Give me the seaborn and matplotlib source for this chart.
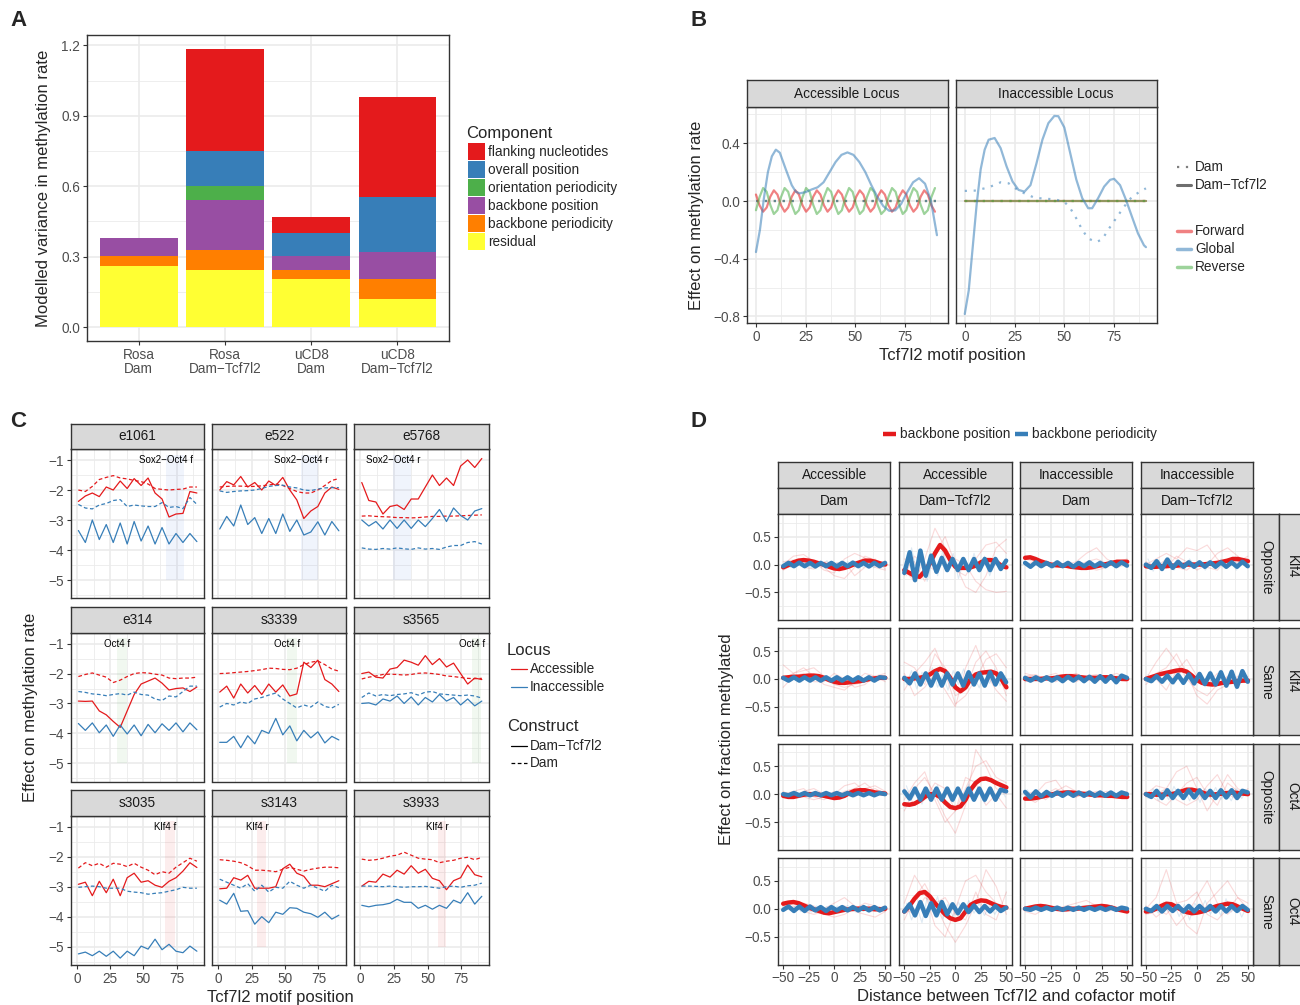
import numpy as np
import pandas as pd
import matplotlib
matplotlib.use("Agg")
import matplotlib.pyplot as plt
import seaborn as sns
from matplotlib.patches import Rectangle

MINUS = "\u2212"

# ---------------- A: variance components ----------------
conditions = ["Rosa\nDam", "Rosa\nDam" + MINUS + "Tcf7l2", "uCD8\nDam", "uCD8\nDam" + MINUS + "Tcf7l2"]
components = ["flanking nucleotides", "overall position", "orientation periodicity",
              "backbone position", "backbone periodicity", "residual"]
comp_colors = ["#E41A1C", "#377EB8", "#4DAF4A", "#984EA3", "#FF7F00", "#FFFF33"]
flanking_nucleotides = [0.0, 0.435, 0.069, 0.426]
overall_position = [0.0, 0.149, 0.097, 0.233]
orientation_periodicity = [0.0, 0.060, 0.0, 0.0]
backbone_position = [0.076, 0.213, 0.060, 0.116]
backbone_periodicity = [0.042, 0.085, 0.038, 0.086]
residual = [0.261, 0.243, 0.205, 0.119]

# ---------------- B: motif position effects ----------------
b_wave_pos = np.arange(0, 90.1, 1.8)
b_acc_forward = [0.045, -0.030, -0.074, -0.045, 0.030, 0.074,
                 0.045, -0.030, -0.074, -0.045, 0.030, 0.074,
                 0.045, -0.030, -0.074, -0.045, 0.030, 0.074,
                 0.045, -0.030, -0.074, -0.045, 0.030, 0.074,
                 0.045, -0.030, -0.074, -0.045, 0.030, 0.074,
                 0.045, -0.030, -0.074, -0.045, 0.030, 0.074,
                 0.045, -0.030, -0.074, -0.045, 0.030, 0.074,
                 0.045, -0.030, -0.074, -0.045, 0.030, 0.074,
                 0.045, -0.030, -0.074]
b_acc_reverse = [-0.064, 0.027, 0.090, 0.064, -0.027, -0.090,
                 -0.064, 0.027, 0.090, 0.064, -0.027, -0.090,
                 -0.064, 0.027, 0.090, 0.064, -0.027, -0.090,
                 -0.064, 0.027, 0.090, 0.064, -0.027, -0.090,
                 -0.064, 0.027, 0.090, 0.064, -0.027, -0.090,
                 -0.064, 0.027, 0.090, 0.064, -0.027, -0.090,
                 -0.064, 0.027, 0.090, 0.064, -0.027, -0.090,
                 -0.064, 0.027, 0.090, 0.064, -0.027, -0.090,
                 -0.064, 0.027, 0.090]
b_acc_global_pos = [0, 2, 4, 6, 8, 10, 12, 15, 18, 20, 22, 25, 28, 31, 34, 37, 40, 43, 46,
                    49, 52, 55, 58, 61, 64, 67, 70, 73, 76, 79, 82, 85, 88, 91]
b_acc_global = [-0.354, -0.2, 0.02, 0.2, 0.31, 0.356, 0.335, 0.22, 0.11, 0.065, 0.053, 0.062,
                0.08, 0.095, 0.13, 0.2, 0.27, 0.32, 0.337, 0.32, 0.27, 0.2, 0.11, 0.03, -0.035,
                -0.068, -0.065, -0.02, 0.06, 0.13, 0.158, 0.12, 0.0, -0.237]
b_inacc_global_pos = [0, 2, 4, 6, 8, 10, 12, 15, 18, 21, 24, 27, 30, 33, 36, 39, 42, 45, 47, 50,
                      53, 56, 59, 62, 64, 67, 70, 73, 75, 78, 81, 84, 87, 90, 91]
b_inacc_global = [-0.784, -0.62, -0.32, -0.02, 0.22, 0.356, 0.425, 0.437, 0.367, 0.24, 0.135,
                  0.077, 0.065, 0.11, 0.26, 0.425, 0.54, 0.59, 0.588, 0.51, 0.33, 0.15, 0.02,
                  -0.05, -0.05, 0.02, 0.10, 0.147, 0.154, 0.11, 0.007, -0.11, -0.225, -0.307, -0.32]
b_inacc_dam_pos = [0, 5, 10, 15, 18, 22, 27, 30, 35, 40, 45, 50, 53, 56, 59, 62, 66, 69, 72,
                   76, 80, 84, 88, 91]
b_inacc_dam_global = [0.07, 0.072, 0.088, 0.11, 0.13, 0.123, 0.072, 0.053, 0.023, 0.016, 0.012,
                      -0.005, -0.05, -0.12, -0.2, -0.26, -0.284, -0.267, -0.2, -0.12, -0.04,
                      0.03, 0.065, 0.088]
b_flat_pos = [0, 91]
b_flat = [0.0, 0.0]

# ---------------- C: individual loci ----------------
c_ids = ["e1061", "e522", "e5768", "e314", "s3339", "s3565", "s3035", "s3143", "s3933"]
c_motif = ["Sox2" + MINUS + "Oct4 f", "Sox2" + MINUS + "Oct4 r", "Sox2" + MINUS + "Oct4 r",
           "Oct4 f", "Oct4 f", "Oct4 f", "Klf4 f", "Klf4 r", "Klf4 r"]
c_motif_start = [67, 62, 24.5, 30, 51.5, 83, 66, 29, 57.5]
c_motif_end = [80.5, 74.5, 37.5, 37.5, 59, 90, 73.5, 36, 64]
c_pos = np.arange(18) * 5.25 + 1
c_acc_tcf = {
    "e1061": [-2.38, -2.2, -2.1, -2.22, -1.9, -2.0, -1.7, -1.95, -1.62, -1.85, -1.6, -2.1, -2.3, -2.9, -2.8, -2.78, -2.05, -2.1],
    "e522": [-2.0, -1.72, -1.83, -1.55, -1.9, -1.75, -2.0, -1.7, -1.85, -1.58, -2.0, -2.33, -2.95, -2.7, -2.55, -2.1, -1.9, -1.98],
    "e5768": [-1.75, -2.35, -2.4, -2.8, -2.55, -2.5, -2.65, -2.3, -2.3, -1.9, -1.5, -1.85, -1.6, -1.85, -1.2, -1.0, -1.25, -0.95],
    "e314": [-2.92, -2.93, -2.92, -3.25, -3.38, -3.6, -3.8, -3.25, -2.7, -2.35, -2.25, -2.15, -2.32, -2.55, -2.5, -2.48, -2.6, -2.45],
    "s3339": [-2.62, -2.42, -2.82, -2.35, -2.65, -2.4, -2.7, -2.35, -2.62, -2.38, -2.75, -2.68, -1.62, -1.8, -1.55, -2.2, -2.35, -2.6],
    "s3565": [-2.0, -1.95, -2.12, -2.15, -1.85, -1.8, -1.55, -1.62, -1.72, -1.4, -1.7, -1.5, -1.78, -1.65, -2.0, -2.35, -2.15, -2.2],
    "s3035": [-2.92, -2.85, -3.3, -2.82, -3.2, -2.75, -3.3, -2.7, -2.55, -2.85, -2.8, -2.95, -3.02, -2.82, -2.7, -2.48, -2.2, -2.36],
    "s3143": [-3.07, -3.05, -2.7, -2.78, -2.62, -3.05, -3.05, -3.05, -3.0, -2.4, -2.25, -2.55, -2.65, -2.95, -2.95, -3.0, -2.9, -2.8],
    "s3933": [-2.98, -2.82, -2.85, -2.58, -2.68, -2.45, -2.58, -2.3, -2.55, -2.42, -2.72, -2.8, -3.1, -2.8, -2.7, -2.28, -2.6, -2.67],
}
c_acc_dam = {
    "e1061": [-2.0, -2.05, -1.88, -1.65, -1.58, -1.52, -1.6, -1.63, -1.68, -1.72, -1.8, -1.95, -1.98, -2.0, -1.98, -1.97, -1.9, -1.9],
    "e522": [-1.9, -1.88, -1.87, -1.87, -1.88, -1.88, -1.86, -1.83, -1.8, -1.85, -1.95, -2.05, -2.1, -2.1, -2.0, -1.85, -1.68, -1.62],
    "e5768": [-2.87, -2.86, -2.88, -2.89, -2.9, -2.92, -2.92, -2.93, -2.92, -2.9, -2.88, -2.88, -2.87, -2.87, -2.86, -2.85, -2.84, -2.83],
    "e314": [-2.1, -2.03, -1.98, -2.05, -2.12, -2.3, -2.22, -2.1, -2.0, -1.97, -1.98, -2.02, -2.05, -2.15, -2.17, -2.15, -2.15, -2.12],
    "s3339": [-2.0, -1.99, -1.97, -1.95, -1.93, -1.9, -1.87, -1.82, -1.83, -1.86, -1.87, -1.82, -1.7, -1.62, -1.58, -1.7, -1.85, -1.92],
    "s3565": [-2.18, -2.12, -2.08, -2.03, -2.02, -2.03, -2.05, -2.03, -1.99, -1.98, -2.0, -2.03, -2.08, -2.1, -2.13, -2.16, -2.17, -2.16],
    "s3035": [-2.38, -2.2, -2.3, -2.22, -2.35, -2.22, -2.25, -2.33, -2.22, -2.35, -2.45, -2.6, -2.5, -2.55, -2.35, -2.2, -2.05, -2.15],
    "s3143": [-2.1, -2.12, -2.15, -2.2, -2.3, -2.45, -2.45, -2.47, -2.5, -2.42, -2.35, -2.42, -2.48, -2.42, -2.38, -2.35, -2.35, -2.37],
    "s3933": [-2.08, -2.12, -2.1, -2.05, -1.98, -1.95, -1.85, -1.95, -2.05, -2.08, -2.1, -2.2, -2.15, -2.12, -2.05, -2.02, -2.1, -2.02],
}
c_inacc_tcf = {
    "e1061": [-3.35, -3.75, -3.0, -3.65, -3.15, -3.75, -3.1, -3.8, -3.05, -3.7, -3.2, -3.8, -3.25, -3.8, -3.45, -3.75, -3.45, -3.72],
    "e522": [-3.3, -2.88, -3.2, -2.5, -3.15, -2.92, -3.45, -2.95, -3.45, -2.8, -3.38, -3.0, -3.5, -3.4, -3.06, -3.5, -3.05, -3.36],
    "e5768": [-3.0, -3.2, -3.05, -3.3, -3.0, -3.28, -3.0, -3.28, -3.0, -3.22, -2.95, -2.65, -3.05, -2.6, -2.85, -3.0, -2.7, -2.62],
    "e314": [-3.67, -3.9, -3.65, -3.98, -3.72, -4.1, -3.72, -4.02, -3.72, -4.08, -3.7, -3.98, -3.68, -3.9, -3.65, -3.95, -3.65, -3.88],
    "s3339": [-4.3, -4.3, -4.1, -4.48, -4.08, -4.35, -3.9, -4.0, -3.5, -4.05, -3.75, -4.25, -3.9, -4.15, -3.95, -4.32, -4.1, -4.22],
    "s3565": [-3.0, -2.98, -3.05, -2.85, -2.92, -2.75, -3.0, -2.78, -3.05, -2.8, -2.95, -2.7, -2.92, -2.8, -3.05, -2.85, -3.08, -2.92],
    "s3035": [-5.24, -5.18, -5.3, -5.15, -5.32, -5.15, -5.38, -5.15, -5.3, -4.98, -5.08, -4.75, -5.1, -4.92, -5.15, -5.2, -4.98, -5.15],
    "s3143": [-3.45, -3.58, -3.22, -3.82, -3.8, -4.25, -4.0, -4.2, -3.85, -3.92, -3.7, -3.72, -3.85, -3.9, -4.02, -3.85, -4.08, -3.95],
    "s3933": [-3.62, -3.67, -3.62, -3.6, -3.55, -3.42, -3.52, -3.52, -3.72, -3.62, -3.75, -3.62, -3.72, -3.45, -3.55, -3.2, -3.58, -3.32],
}
c_inacc_dam = {
    "e1061": [-2.48, -2.6, -2.63, -2.5, -2.45, -2.35, -2.32, -2.55, -2.5, -2.53, -2.55, -2.55, -2.42, -2.58, -2.55, -2.62, -2.25, -2.48],
    "e522": [-2.03, -2.08, -2.05, -2.03, -2.02, -2.0, -1.95, -1.88, -1.85, -1.84, -1.9, -1.93, -2.0, -2.02, -1.97, -1.93, -1.92, -1.92],
    "e5768": [-3.93, -3.97, -3.98, -3.95, -3.97, -3.93, -3.96, -3.98, -3.93, -3.97, -3.95, -3.98, -3.9, -3.85, -3.85, -3.75, -3.72, -3.8],
    "e314": [-2.6, -2.63, -2.68, -2.7, -2.74, -2.7, -2.67, -2.72, -2.62, -2.7, -2.72, -2.85, -2.9, -2.75, -2.78, -2.6, -2.42, -2.42],
    "s3339": [-3.12, -3.0, -3.05, -2.95, -3.0, -2.85, -2.8, -2.72, -2.65, -2.85, -3.0, -3.15, -3.05, -3.12, -2.95, -3.1, -3.15, -3.03],
    "s3565": [-2.8, -2.65, -2.75, -2.7, -2.74, -2.7, -2.68, -2.64, -2.72, -2.62, -2.6, -2.68, -2.7, -2.72, -2.74, -2.72, -2.75, -2.82],
    "s3035": [-3.02, -3.0, -2.98, -3.0, -3.05, -3.05, -3.05, -3.15, -3.18, -3.2, -3.25, -3.22, -3.2, -3.15, -3.1, -3.02, -3.05, -3.05],
    "s3143": [-2.75, -2.85, -2.95, -3.05, -2.9, -3.15, -2.95, -3.18, -3.02, -3.05, -2.82, -2.95, -3.05, -2.95, -3.05, -3.15, -2.95, -3.03],
    "s3933": [-2.98, -2.98, -2.99, -3.0, -2.98, -3.0, -3.02, -3.0, -3.0, -2.99, -3.02, -3.05, -3.0, -2.98, -3.02, -2.97, -2.95, -2.88],
}

# ---------------- D: cofactor distance ----------------
d_rows = [("Klf4", "Opposite"), ("Klf4", "Same"), ("Oct4", "Opposite"), ("Oct4", "Same")]
d_loci = ["Accessible", "Accessible", "Inaccessible", "Inaccessible"]
d_constructs = ["Dam", "Dam" + MINUS + "Tcf7l2", "Dam", "Dam" + MINUS + "Tcf7l2"]
d_pos_pos = np.arange(-50, 51, 5)
d_per_pos = np.arange(20) * 5.25 - 50
d_faint_pos = np.arange(-50, 51, 10)
d_faint_per_pos = np.arange(20) * 5.1 - 48
d_bb_position = {
    ("Klf4", "Opposite"): [
        [-0.05, -0.01, 0.04, 0.07, 0.08, 0.07, 0.05, 0.02, 0.0, -0.04, -0.07, -0.08, -0.06, -0.03, 0.01, 0.04, 0.07, 0.07, 0.05, 0.02, 0.0],
        [-0.10, -0.15, -0.20, -0.22, -0.12, 0.02, 0.20, 0.35, 0.25, 0.08, -0.04, -0.06, -0.06, -0.05, -0.02, 0.04, 0.08, 0.08, 0.05, -0.02, -0.05],
        [0.12, 0.13, 0.10, 0.06, 0.03, 0.0, -0.01, -0.02, -0.02, -0.04, -0.05, -0.06, -0.06, -0.05, -0.03, -0.01, 0.01, 0.03, 0.05, 0.05, 0.05],
        [-0.03, -0.04, -0.04, -0.03, -0.03, -0.02, -0.02, -0.01, 0.0, 0.0, 0.0, 0.0, 0.01, 0.02, 0.03, 0.05, 0.07, 0.10, 0.10, 0.08, 0.06]],
    ("Klf4", "Same"): [
        [0.02, 0.03, 0.04, 0.04, 0.05, 0.06, 0.06, 0.05, 0.02, -0.02, -0.05, -0.07, -0.07, -0.06, -0.05, -0.04, -0.02, 0.0, 0.01, 0.02, 0.02],
        [0.0, 0.0, 0.01, 0.02, 0.04, 0.08, 0.14, 0.18, 0.14, 0.02, -0.15, -0.22, -0.15, 0.0, 0.08, 0.11, 0.12, 0.13, 0.10, 0.0, -0.15],
        [0.0, 0.0, 0.0, 0.0, 0.01, 0.01, 0.02, 0.04, 0.05, 0.05, 0.04, 0.03, 0.02, 0.02, 0.02, 0.03, 0.03, 0.02, 0.01, 0.0, 0.0],
        [0.0, 0.03, 0.06, 0.09, 0.11, 0.13, 0.15, 0.16, 0.13, 0.06, -0.02, -0.07, -0.09, -0.10, -0.09, -0.07, -0.06, -0.05, -0.04, -0.03, -0.03]],
    ("Oct4", "Opposite"): [
        [-0.03, -0.05, -0.05, -0.03, -0.01, 0.0, 0.0, -0.01, -0.03, -0.05, -0.07, -0.06, -0.03, 0.02, 0.06, 0.07, 0.07, 0.05, 0.03, 0.02, 0.01],
        [-0.18, -0.19, -0.17, -0.12, -0.05, 0.0, 0.0, -0.05, -0.15, -0.23, -0.25, -0.22, -0.10, 0.08, 0.20, 0.27, 0.28, 0.25, 0.20, 0.16, 0.12],
        [-0.08, -0.08, -0.07, -0.05, -0.03, -0.01, 0.01, 0.02, 0.03, 0.03, 0.02, 0.01, 0.0, -0.01, -0.02, -0.02, -0.03, -0.03, -0.04, -0.05, -0.05],
        [0.0, 0.0, -0.01, -0.01, 0.0, 0.0, 0.02, 0.05, 0.08, 0.08, 0.06, 0.03, 0.0, -0.01, 0.0, 0.01, 0.02, 0.03, 0.02, 0.01, 0.0]],
    ("Oct4", "Same"): [
        [0.09, 0.11, 0.12, 0.10, 0.06, 0.02, -0.01, -0.04, -0.07, -0.08, -0.06, -0.04, -0.02, -0.01, 0.0, 0.0, 0.0, 0.0, -0.01, -0.01, 0.0],
        [-0.05, 0.05, 0.18, 0.28, 0.30, 0.22, 0.10, 0.0, -0.10, -0.17, -0.20, -0.17, -0.05, 0.07, 0.12, 0.15, 0.14, 0.10, 0.06, 0.03, 0.02],
        [0.0, 0.02, 0.04, 0.05, 0.04, 0.02, 0.0, -0.01, -0.01, 0.0, 0.0, 0.01, 0.02, 0.03, 0.04, 0.05, 0.04, 0.02, -0.01, -0.03, -0.05],
        [-0.05, -0.04, 0.0, 0.05, 0.09, 0.08, 0.03, -0.02, -0.06, -0.08, -0.07, -0.05, -0.02, 0.02, 0.05, 0.07, 0.09, 0.08, 0.04, 0.0, -0.04]],
}
d_bb_periodicity = {
    ("Klf4", "Opposite"): [
        [-0.03, 0.03, -0.03, 0.035, -0.03, 0.03, -0.035, 0.03, -0.03, 0.03, -0.035, 0.03, -0.03, 0.035, -0.03, 0.03, -0.035, 0.03, -0.03, 0.03],
        [-0.15, 0.22, -0.28, 0.25, -0.2, 0.16, -0.13, 0.12, -0.1, 0.1, -0.1, 0.1, -0.1, 0.1, -0.1, 0.1, -0.1, 0.1, -0.08, 0.07],
        [0.03, -0.04, 0.04, -0.03, 0.03, -0.03, 0.04, -0.03, 0.03, -0.04, 0.03, -0.03, 0.04, -0.03, 0.03, -0.03, 0.04, -0.03, 0.04, -0.02],
        [0.0, -0.06, 0.06, -0.08, 0.09, -0.06, 0.05, -0.04, 0.04, -0.04, 0.04, -0.04, 0.04, -0.04, 0.04, -0.04, 0.04, -0.04, 0.05, -0.03]],
    ("Klf4", "Same"): [
        [0.02, -0.03, 0.03, -0.03, 0.03, -0.03, 0.03, -0.03, 0.03, -0.03, 0.03, -0.03, 0.03, -0.03, 0.03, -0.03, 0.03, -0.03, 0.03, 0.02],
        [0.02, -0.08, 0.10, -0.10, 0.10, -0.12, 0.10, -0.12, 0.10, -0.10, 0.10, -0.12, 0.12, -0.10, 0.10, -0.12, 0.12, -0.10, 0.10, -0.06],
        [0.02, -0.03, 0.03, -0.03, 0.03, -0.03, 0.03, -0.04, 0.04, -0.03, 0.04, -0.04, 0.04, -0.05, 0.05, -0.05, 0.05, -0.06, 0.06, 0.02],
        [0.0, -0.04, 0.05, -0.05, 0.06, -0.06, 0.07, -0.07, 0.08, -0.08, 0.09, -0.09, 0.10, -0.10, 0.12, -0.12, 0.13, -0.14, 0.14, -0.05]],
    ("Oct4", "Opposite"): [
        [0.0, -0.02, 0.02, -0.02, 0.02, -0.02, 0.02, -0.02, 0.02, -0.02, 0.02, -0.02, 0.02, -0.02, 0.02, -0.02, 0.02, -0.02, 0.02, 0.0],
        [0.05, -0.08, 0.10, -0.10, 0.10, -0.10, 0.10, -0.10, 0.10, -0.10, 0.10, -0.10, 0.10, -0.10, 0.10, -0.10, 0.10, -0.10, 0.08, 0.05],
        [0.04, -0.06, 0.05, -0.04, 0.04, -0.03, 0.03, -0.03, 0.03, -0.03, 0.03, -0.03, 0.03, -0.03, 0.03, -0.03, 0.03, -0.03, 0.03, 0.0],
        [0.0, -0.05, 0.06, -0.07, 0.07, -0.07, 0.06, -0.07, 0.07, -0.06, 0.07, -0.07, 0.06, -0.07, 0.07, -0.06, 0.07, -0.07, 0.06, 0.03]],
    ("Oct4", "Same"): [
        [-0.02, 0.04, -0.04, 0.04, -0.04, 0.04, -0.03, 0.03, -0.04, 0.03, -0.03, 0.03, -0.03, 0.03, -0.03, 0.03, -0.03, 0.03, -0.03, 0.02],
        [-0.05, 0.08, -0.12, 0.12, -0.13, 0.10, -0.12, 0.12, -0.10, 0.08, -0.08, 0.08, -0.06, 0.06, -0.06, 0.05, -0.05, 0.05, -0.04, 0.02],
        [0.0, -0.02, 0.02, -0.02, 0.02, -0.02, 0.02, -0.02, 0.02, -0.02, 0.02, -0.02, 0.02, -0.02, 0.02, -0.02, 0.02, -0.02, 0.02, 0.0],
        [0.0, -0.04, 0.05, -0.05, 0.05, -0.04, 0.05, -0.05, 0.05, -0.05, 0.05, -0.04, 0.05, -0.05, 0.05, -0.05, 0.05, -0.04, 0.05, -0.02]],
}
# thin per-locus backbone position curves
d_loci_curves = {
    ("Klf4", "Opposite"): [
        [[0.0, 0.15, 0.18, 0.05, -0.1, -0.15, 0.1, 0.2, 0.12, -0.05, -0.1], [-0.1, 0.0, 0.1, 0.05, -0.05, -0.2, -0.25, -0.05, 0.15, 0.08, 0.0], [0.05, 0.08, -0.05, -0.08, 0.05, 0.02, 0.05, -0.2, -0.05, 0.1, -0.08]],
        [[-0.1, -0.3, 0.1, 0.65, 0.3, -0.1, -0.2, 0.1, 0.35, 0.4, 0.2], [0.1, 0.05, -0.3, 0.2, 0.5, 0.0, -0.4, -0.5, -0.2, 0.3, 0.45], [-0.2, 0.15, 0.0, -0.1, 0.2, 0.1, 0.0, -0.3, -0.45, -0.5, -0.48]],
        [[0.1, 0.05, 0.0, -0.05, 0.0, 0.05, 0.2, 0.3, 0.1, 0.0, 0.05], [0.0, 0.05, 0.02, -0.03, -0.05, -0.02, 0.05, 0.1, 0.02, -0.05, 0.0], [0.15, 0.1, 0.0, 0.0, 0.0, -0.02, -0.05, -0.1, -0.05, 0.05, 0.1]],
        [[0.0, 0.1, 0.2, 0.1, 0.3, 0.25, 0.35, 0.1, -0.05, 0.05, 0.1], [-0.05, 0.0, -0.05, 0.15, 0.05, -0.1, 0.0, 0.2, 0.3, 0.15, 0.0], [0.05, -0.05, 0.1, -0.05, -0.1, 0.05, -0.05, -0.1, 0.1, 0.05, 0.15]]],
    ("Klf4", "Same"): [
        [[0.25, 0.1, 0.2, 0.05, -0.1, -0.15, -0.2, -0.05, 0.1, 0.05, -0.05], [0.0, 0.1, 0.15, 0.2, 0.05, -0.1, -0.15, -0.1, -0.05, 0.0, 0.05], [-0.15, 0.05, 0.1, -0.05, -0.05, 0.1, 0.0, -0.15, -0.1, 0.05, 0.1]],
        [[0.3, 0.2, -0.1, 0.45, 0.2, -0.3, -0.2, 0.3, 0.5, 0.2, -0.3], [-0.2, 0.1, 0.3, 0.55, 0.1, -0.45, -0.3, 0.0, 0.35, 0.45, 0.2], [0.1, -0.3, -0.15, 0.1, -0.2, -0.5, 0.2, 0.6, 0.1, -0.2, -0.4]],
        [[0.05, 0.08, 0.0, -0.05, 0.05, 0.1, 0.0, -0.05, 0.05, 0.1, 0.0], [-0.05, 0.0, 0.05, 0.1, 0.0, -0.05, 0.05, 0.08, 0.0, 0.05, 0.05], [0.1, 0.05, 0.0, 0.02, 0.05, 0.0, -0.03, 0.0, 0.05, 0.0, -0.05]],
        [[0.0, 0.3, 0.55, 0.3, 0.0, -0.2, -0.3, -0.1, 0.05, 0.0, -0.05], [-0.1, 0.1, 0.2, 0.45, 0.1, -0.3, -0.45, -0.2, -0.1, 0.05, 0.0], [0.05, 0.0, -0.2, 0.15, 0.35, 0.05, -0.1, 0.1, 0.0, -0.1, 0.05]]],
    ("Oct4", "Opposite"): [
        [[0.0, 0.05, 0.1, -0.05, -0.1, 0.0, 0.15, 0.2, 0.05, 0.1, 0.0], [0.05, -0.05, 0.05, 0.1, 0.0, -0.05, 0.05, 0.1, 0.2, 0.05, 0.0], [-0.05, 0.0, -0.05, -0.1, -0.05, 0.05, 0.0, -0.05, 0.1, 0.15, 0.05]],
        [[-0.3, 0.1, 0.3, 0.0, -0.4, -0.7, -0.2, 0.8, 0.5, 0.1, 0.0], [0.1, -0.2, -0.1, 0.2, 0.1, -0.3, 0.1, 0.5, 0.6, 0.3, 0.2], [-0.1, 0.2, 0.4, -0.1, -0.5, -0.3, 0.3, 0.2, -0.2, 0.0, -0.25]],
        [[-0.1, 0.0, 0.2, 0.25, 0.0, -0.05, 0.05, 0.0, -0.05, 0.0, 0.05], [0.0, 0.05, -0.1, 0.05, 0.15, 0.05, 0.0, 0.05, 0.0, -0.05, 0.0], [-0.05, -0.15, 0.0, 0.1, 0.0, -0.05, 0.0, 0.0, 0.05, 0.0, -0.05]],
        [[0.0, 0.15, 0.1, 0.4, 0.5, 0.1, -0.3, 0.0, 0.35, 0.1, 0.0], [0.05, -0.1, -0.2, 0.0, 0.2, 0.3, 0.0, -0.2, 0.2, 0.05, 0.05], [-0.05, 0.0, 0.1, -0.1, -0.2, -0.1, 0.15, 0.35, 0.0, -0.1, 0.1]]],
    ("Oct4", "Same"): [
        [[0.1, 0.15, 0.05, -0.05, 0.0, 0.1, 0.2, 0.05, 0.0, 0.05, 0.0], [0.05, 0.0, 0.1, 0.05, -0.1, -0.15, -0.1, 0.0, 0.1, 0.05, -0.05], [0.0, 0.05, -0.05, -0.1, -0.05, 0.0, 0.05, -0.05, -0.1, -0.15, -0.05]],
        [[0.1, 0.6, 0.3, -0.3, -0.5, 0.0, 0.5, 0.6, 0.3, 0.1, 0.0], [-0.2, 0.2, 0.45, 0.1, -0.3, -0.6, -0.3, 0.1, 0.7, 0.4, -0.1], [0.0, -0.1, 0.2, 0.1, 0.2, -0.1, -0.2, 0.3, -0.1, -0.2, 0.3]],
        [[0.0, 0.03, 0.05, 0.0, 0.05, 0.1, 0.15, 0.05, 0.0, 0.02, 0.0], [-0.05, -0.1, 0.0, 0.05, 0.0, 0.0, 0.05, 0.0, -0.05, 0.0, 0.02], [0.03, 0.0, -0.02, 0.0, -0.05, -0.03, 0.0, 0.05, 0.03, -0.03, -0.05]],
        [[0.0, 0.2, 0.7, 0.1, -0.3, -0.45, 0.1, 0.3, 0.5, 0.2, 0.0], [-0.1, 0.0, -0.1, 0.1, 0.15, 0.3, -0.1, -0.2, 0.0, 0.2, 0.1], [0.05, -0.15, 0.0, -0.3, -0.1, 0.2, 0.5, 0.1, -0.1, 0.05, -0.05]]],
}
# thin per-locus backbone periodicity curves
d_loci_periodicity = {
    ("Klf4", "Opposite"): [
        [0.04, -0.05, 0.06, -0.03, 0.05, -0.06, 0.02, -0.05, 0.07, -0.04, 0.03, -0.06, 0.05, -0.02, 0.06, -0.05, 0.04, -0.06, 0.03, -0.02],
        [-0.2, 0.3, -0.15, 0.25, -0.3, 0.1, -0.2, 0.25, -0.05, 0.2, -0.25, 0.05, -0.15, 0.2, -0.1, 0.15, -0.2, 0.05, -0.1, 0.1],
        [0.05, -0.03, 0.06, -0.05, 0.02, -0.06, 0.05, -0.02, 0.04, -0.06, 0.05, -0.03, 0.06, -0.04, 0.02, -0.05, 0.06, -0.02, 0.05, -0.03],
        [0.1, -0.12, 0.08, -0.05, 0.12, -0.1, 0.06, -0.08, 0.1, -0.04, 0.07, -0.1, 0.05, -0.08, 0.1, -0.06, 0.04, -0.1, 0.08, -0.05]],
    ("Klf4", "Same"): [
        [0.05, -0.04, 0.03, -0.06, 0.05, -0.02, 0.06, -0.05, 0.03, -0.04, 0.06, -0.03, 0.04, -0.06, 0.02, -0.05, 0.06, -0.03, 0.05, -0.02],
        [-0.1, 0.15, -0.18, 0.12, -0.05, 0.2, -0.15, 0.08, -0.2, 0.15, -0.1, 0.18, -0.12, 0.05, -0.16, 0.14, -0.08, 0.18, -0.12, 0.06],
        [0.03, -0.05, 0.04, -0.02, 0.06, -0.04, 0.03, -0.06, 0.05, -0.03, 0.06, -0.05, 0.04, -0.07, 0.06, -0.04, 0.08, -0.05, 0.07, -0.03],
        [0.08, -0.06, 0.1, -0.08, 0.05, -0.1, 0.12, -0.06, 0.1, -0.12, 0.08, -0.14, 0.15, -0.1, 0.16, -0.15, 0.1, -0.18, 0.16, -0.08]],
    ("Oct4", "Opposite"): [
        [0.03, -0.04, 0.05, -0.02, 0.04, -0.05, 0.03, -0.03, 0.05, -0.04, 0.02, -0.05, 0.04, -0.03, 0.05, -0.02, 0.04, -0.05, 0.03, -0.02],
        [0.15, -0.1, 0.05, -0.18, 0.12, -0.06, 0.16, -0.14, 0.08, -0.15, 0.12, -0.05, 0.18, -0.1, 0.06, -0.16, 0.12, -0.08, 0.14, -0.05],
        [0.08, -0.05, 0.03, -0.07, 0.06, -0.02, 0.05, -0.06, 0.03, -0.05, 0.06, -0.02, 0.04, -0.06, 0.05, -0.03, 0.04, -0.05, 0.03, -0.02],
        [-0.08, 0.1, -0.12, 0.06, -0.1, 0.14, -0.05, 0.1, -0.12, 0.08, -0.15, 0.1, -0.06, 0.12, -0.1, 0.05, -0.12, 0.1, -0.08, 0.06]],
    ("Oct4", "Same"): [
        [0.05, -0.03, 0.06, -0.05, 0.02, -0.06, 0.05, -0.03, 0.04, -0.06, 0.05, -0.02, 0.06, -0.04, 0.03, -0.05, 0.06, -0.03, 0.04, -0.02],
        [0.1, -0.2, 0.05, -0.25, 0.2, -0.05, 0.22, -0.18, 0.08, -0.15, 0.12, -0.1, 0.15, -0.08, 0.1, -0.12, 0.06, -0.1, 0.08, -0.04],
        [0.03, -0.02, 0.04, -0.03, 0.02, -0.04, 0.03, -0.02, 0.04, -0.03, 0.02, -0.04, 0.03, -0.02, 0.04, -0.03, 0.02, -0.04, 0.03, -0.02],
        [-0.1, 0.06, -0.08, 0.12, -0.05, 0.1, -0.14, 0.08, -0.2, 0.1, -0.06, 0.15, -0.1, 0.08, -0.12, 0.18, -0.06, 0.1, -0.15, 0.05]],
}

# ---------------- style ----------------
RED, BLUE, GREEN = "#E41A1C", "#377EB8", "#4DAF4A"
GRID = "#EBEBEB"
EDGE = "#333333"
TXT = "#4D4D4D"
W, H = 1300, 1005

sns.set_style("white")
plt.rcParams["font.family"] = ["Liberation Sans", "DejaVu Sans"]

fig = plt.figure(figsize=(W / 100, H / 100), dpi=100)


def px_axes(l, t, r, b, **kw):
    return fig.add_axes([l / W, 1 - b / H, (r - l) / W, (b - t) / H], **kw)


def fmt(v, nd):
    return f"{v:.{nd}f}".replace("-", MINUS)


def style_panel(ax, xlim, ylim, xmaj, xmin, ymaj, ymin, xnd=0, ynd=1, show_x=True, show_y=True):
    ax.set_xlim(*xlim)
    ax.set_ylim(*ylim)
    ax.set_xticks(xmaj)
    ax.set_xticks(xmin, minor=True)
    ax.set_yticks(ymaj)
    ax.set_yticks(ymin, minor=True)
    if xnd is not None:
        ax.set_xticklabels([fmt(v, xnd) for v in xmaj])
    ax.set_yticklabels([fmt(v, ynd) for v in ymaj])
    ax.grid(True, which="major", color=GRID, lw=1.2)
    ax.grid(True, which="minor", color=GRID, lw=0.6)
    ax.set_axisbelow(True)
    for s in ax.spines.values():
        s.set_visible(True)
        s.set_color(EDGE)
        s.set_linewidth(1.0)
    ax.tick_params(which="major", length=2.7, width=0.8, color=EDGE, labelsize=9.8,
                   labelcolor=TXT, pad=2.2)
    ax.tick_params(which="minor", length=0)
    ax.tick_params(axis="x", bottom=show_x, labelbottom=show_x)
    ax.tick_params(axis="y", left=show_y, labelleft=show_y)
    ax.set_xlabel("")
    ax.set_ylabel("")


def strip(l, t, r, b, text, rotation=0):
    sa = px_axes(l, t, r, b)
    sa.set_facecolor("#D9D9D9")
    sa.set_xticks([])
    sa.set_yticks([])
    for s in sa.spines.values():
        s.set_visible(True)
        s.set_color(EDGE)
        s.set_linewidth(1.0)
    sa.text(0.5, 0.5, text, ha="center", va="center", fontsize=9.8, color="#1A1A1A",
            rotation=rotation, transform=sa.transAxes)


# ---------------- panel A ----------------
ax_a = px_axes(87, 35, 449, 341)
stack = np.array([flanking_nucleotides, overall_position, orientation_periodicity,
                  backbone_position, backbone_periodicity, residual])
cum = np.cumsum(stack[::-1], axis=0)[::-1]
for heights, col in zip(cum, comp_colors):
    sns.barplot(x=conditions, y=heights, color=col, width=0.9, saturation=1,
                linewidth=0, errorbar=None, ax=ax_a)
style_panel(ax_a, (-0.6, 3.6), (-0.059, 1.244), [0, 1, 2, 3], [],
            [0, 0.3, 0.6, 0.9, 1.2], [0.15, 0.45, 0.75, 1.05], xnd=None)
ax_a.set_xticklabels(conditions)
for lbl in ax_a.get_xticklabels():
    lbl.set_linespacing(1.0)

# ---------------- panel B ----------------
b_xlim = (-4.5, 96.3)
b_ylim = (-0.848, 0.654)
alpha_b = 0.55
ax_bl = px_axes(747, 106.7, 947.5, 323.3)
ax_br = px_axes(955.8, 106.7, 1156.5, 323.3)
strip(747, 80.3, 947.5, 106.7, "Accessible Locus")
strip(955.8, 80.3, 1156.5, 106.7, "Inaccessible Locus")
dotted = (0, (1, 3))
for col in (RED, GREEN, BLUE):
    sns.lineplot(x=b_flat_pos, y=b_flat, color=col, alpha=alpha_b, lw=1.6, linestyle=dotted, ax=ax_bl)
sns.lineplot(x=b_wave_pos, y=b_acc_forward, color=RED, alpha=alpha_b, lw=1.6, ax=ax_bl)
sns.lineplot(x=b_wave_pos, y=b_acc_reverse, color=GREEN, alpha=alpha_b, lw=1.6, ax=ax_bl)
sns.lineplot(x=b_acc_global_pos, y=b_acc_global, color=BLUE, alpha=alpha_b, lw=1.6, ax=ax_bl)

for col in (RED, GREEN):
    sns.lineplot(x=b_flat_pos, y=b_flat, color=col, alpha=alpha_b, lw=1.6, linestyle=dotted, ax=ax_br)
    sns.lineplot(x=b_flat_pos, y=b_flat, color=col, alpha=alpha_b, lw=1.6, ax=ax_br)
sns.lineplot(x=b_inacc_dam_pos, y=b_inacc_dam_global, color=BLUE, alpha=alpha_b, lw=1.6,
             linestyle=dotted, ax=ax_br)
sns.lineplot(x=b_inacc_global_pos, y=b_inacc_global, color=BLUE, alpha=alpha_b, lw=1.6, ax=ax_br)
for k, ax in enumerate((ax_bl, ax_br)):
    style_panel(ax, b_xlim, b_ylim, [0, 25, 50, 75], [12.5, 37.5, 62.5, 87.5],
                [-0.8, -0.4, 0.0, 0.4], [-0.6, -0.2, 0.2, 0.6], show_y=(k == 0))

# ---------------- panel C ----------------
c_lefts = [71, 212.3, 354.3]
c_rights = [204, 346, 489]
c_strip_tops = [424, 606.7, 790]
c_tops = [449, 632.7, 815.7]
c_bottoms = [598.3, 781.5, 965]
motif_colors = {"Sox2": "#4A7BE0", "Oct4": GREEN, "Klf4": RED}
for i, cid in enumerate(c_ids):
    r, c = divmod(i, 3)
    ax = px_axes(c_lefts[c], c_tops[r], c_rights[c], c_bottoms[r])
    strip(c_lefts[c], c_strip_tops[r], c_rights[c], c_tops[r], cid)
    mcol = motif_colors[c_motif[i][:4]]
    ax.add_patch(Rectangle((c_motif_start[i], -5.0), c_motif_end[i] - c_motif_start[i], 4.18,
                           facecolor=mcol, alpha=0.08, lw=0, zorder=1))
    parts = []
    for locus, construct, src in [("Accessible", "Dam" + MINUS + "Tcf7l2", c_acc_tcf),
                                  ("Accessible", "Dam", c_acc_dam),
                                  ("Inaccessible", "Dam" + MINUS + "Tcf7l2", c_inacc_tcf),
                                  ("Inaccessible", "Dam", c_inacc_dam)]:
        parts.append(pd.DataFrame({"pos": c_pos, "effect": src[cid],
                                   "Locus": locus, "Construct": construct}))
    df = pd.concat(parts, ignore_index=True)
    sns.lineplot(data=df, x="pos", y="effect", hue="Locus", style="Construct",
                 palette={"Accessible": RED, "Inaccessible": BLUE},
                 dashes={"Dam" + MINUS + "Tcf7l2": "", "Dam": (3, 2)},
                 lw=0.9, legend=False, ax=ax, zorder=3)
    ax.text(c_motif_start[i], -1.0, c_motif[i], ha="center", va="center", fontsize=7,
            color="black", zorder=4)
    style_panel(ax, (-4.55, 95.6), (-5.61, -0.633), [0, 25, 50, 75], [12.5, 37.5, 62.5, 87.5],
                [-5, -4, -3, -2, -1], [-5.5, -4.5, -3.5, -2.5, -1.5], ynd=0,
                show_x=(r == 2), show_y=(c == 0))

# ---------------- panel D ----------------
d_lefts = [778.1, 899.2, 1020, 1140.8]
d_w = 112.3
d_tops = [514, 628.4, 743.6, 858.2]
d_h = 106.4
for c in range(4):
    strip(d_lefts[c], 461.7, d_lefts[c] + d_w, 487.7, d_loci[c])
    strip(d_lefts[c], 487.7, d_lefts[c] + d_w, 514, d_constructs[c])
for r, key in enumerate(d_rows):
    strip(1253.1, d_tops[r], 1279, d_tops[r] + d_h, key[1], rotation=-90)
    strip(1279, d_tops[r], 1305, d_tops[r] + d_h, key[0], rotation=-90)
    for c in range(4):
        ax = px_axes(d_lefts[c], d_tops[r], d_lefts[c] + d_w, d_tops[r] + d_h)
        for curve in d_loci_curves[key][c]:
            sns.lineplot(x=d_faint_pos, y=curve, color=RED, alpha=0.16, lw=0.8, ax=ax)
        sns.lineplot(x=d_faint_per_pos, y=d_loci_periodicity[key][c], color=BLUE, alpha=0.16,
                     lw=0.8, ax=ax)
        sns.lineplot(x=d_pos_pos, y=d_bb_position[key][c], color=RED, lw=3.2, ax=ax)
        sns.lineplot(x=d_per_pos, y=d_bb_periodicity[key][c], color=BLUE, lw=3.2, ax=ax)
        style_panel(ax, (-55, 55), (-1.0, 0.905), [-50, -25, 0, 25, 50],
                    [-37.5, -12.5, 12.5, 37.5], [-0.5, 0.0, 0.5], [-0.75, -0.25, 0.25, 0.75],
                    show_x=(r == 3), show_y=(c == 0))

# ---------------- annotation layer: titles, legends, panel letters ----------------
ov = fig.add_axes([0, 0, 1, 1], zorder=10)
ov.set_xlim(0, W)
ov.set_ylim(H, 0)
ov.axis("off")
ov.patch.set_alpha(0)

for letter, x, y in [("A", 10, 20), ("B", 690, 20), ("C", 10, 421), ("D", 690, 421)]:
    ov.text(x, y, letter, fontsize=16, fontweight="bold", ha="left", va="center")

ov.text(44, 188, "Modelled variance in methylation rate", rotation=90, fontsize=12,
        ha="center", va="center")
ov.text(696, 215, "Effect on methylation rate", rotation=90, fontsize=12, ha="center", va="center")
ov.text(952, 355, "Tcf7l2 motif position", fontsize=12, ha="center", va="center")
ov.text(31, 707, "Effect on methylation rate", rotation=90, fontsize=12, ha="center", va="center")
ov.text(280, 997, "Tcf7l2 motif position", fontsize=12, ha="center", va="center")
ov.text(727, 739, "Effect on fraction methylated", rotation=90, fontsize=12, ha="center", va="center")
ov.text(1016, 996, "Distance between Tcf7l2 and cofactor motif", fontsize=12,
        ha="center", va="center")

# legend A
ov.text(466, 133, "Component", fontsize=12, ha="left", va="center")
for k, (name, col) in enumerate(zip(components, comp_colors)):
    y0 = 143 + 18 * k
    ov.add_patch(Rectangle((468, y0), 17, 17, facecolor=col, edgecolor="none"))
    ov.text(488, y0 + 8.5, name, fontsize=9.8, ha="left", va="center")

# legend B
ov.plot([1177, 1191], [167, 167], color="#7F7F7F", lw=1.6, linestyle=dotted)
ov.plot([1177, 1191], [185, 185], color="#6E6E6E", lw=2.2)
ov.text(1195, 167, "Dam", fontsize=9.8, ha="left", va="center")
ov.text(1195, 185, "Dam" + MINUS + "Tcf7l2", fontsize=9.8, ha="left", va="center")
for y, name, col in [(231, "Forward", RED), (249, "Global", BLUE), (267, "Reverse", GREEN)]:
    ov.plot([1177, 1191], [y, y], color=col, alpha=alpha_b, lw=2.5)
    ov.text(1195, y, name, fontsize=9.8, ha="left", va="center")

# legend C
ov.text(507, 650, "Locus", fontsize=12, ha="left", va="center")
ov.plot([510.7, 526.6], [669, 669], color=RED, lw=0.9)
ov.text(530, 669, "Accessible", fontsize=9.8, ha="left", va="center")
ov.plot([510.7, 526.6], [687, 687], color=BLUE, lw=0.9)
ov.text(530, 687, "Inaccessible", fontsize=9.8, ha="left", va="center")
ov.text(507, 726, "Construct", fontsize=12, ha="left", va="center")
ov.plot([510.7, 526.6], [745.5, 745.5], color="black", lw=0.9)
ov.text(530, 745.5, "Dam" + MINUS + "Tcf7l2", fontsize=9.8, ha="left", va="center")
ov.plot([510.7, 526.6], [763, 763], color="black", lw=0.9, dashes=(3, 2))
ov.text(530, 763, "Dam", fontsize=9.8, ha="left", va="center")

# legend D
ov.plot([883, 896], [434.3, 434.3], color=RED, lw=3.2, solid_capstyle="butt")
ov.text(900, 434.3, "backbone position", fontsize=9.8, ha="left", va="center")
ov.plot([1015, 1028], [434.3, 434.3], color=BLUE, lw=3.2, solid_capstyle="butt")
ov.text(1032, 434.3, "backbone periodicity", fontsize=9.8, ha="left", va="center")

fig.savefig("out.png", dpi=100)
